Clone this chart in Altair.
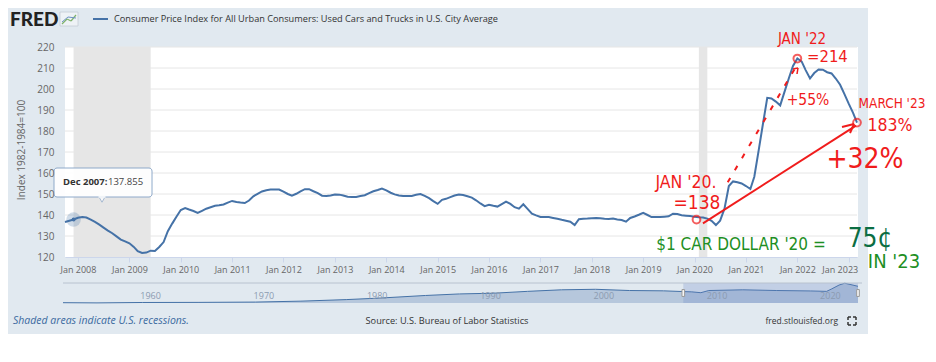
import altair as alt
import pandas as pd

# ---------------- data ----------------
cpi_2007 = [136.7, 137.3, 137.855]
cpi_2008 = [138.7, 139.0, 138.8, 137.8, 136.7, 135.4, 134.0, 132.6, 131.3, 129.8, 128.3, 127.4]
cpi_2009 = [126.5, 124.8, 122.8, 121.9, 122.1, 123.0, 122.9, 124.8, 127.1, 132.3, 135.9, 139.2]
cpi_2010 = [142.4, 143.3, 142.6, 141.9, 141.0, 142.0, 143.0, 143.7, 144.4, 144.6, 145.0, 145.9]
cpi_2011 = [146.7, 146.2, 145.9, 145.7, 146.9, 148.9, 150.1, 151.2, 151.8, 152.1, 152.1, 152.1]
cpi_2012 = [151.1, 150.0, 149.2, 150.1, 151.3, 152.3, 152.3, 151.3, 150.4, 149.2, 149.1, 149.3]
cpi_2013 = [149.8, 149.7, 149.3, 148.7, 148.6, 148.6, 149.0, 149.4, 150.4, 151.3, 151.9, 152.6]
cpi_2014 = [151.7, 150.6, 149.8, 149.3, 149.1, 149.1, 149.1, 149.6, 150.0, 149.1, 148.0, 146.6]
cpi_2015 = [145.3, 147.2, 147.7, 148.5, 149.3, 149.8, 149.5, 148.9, 148.3, 147.0, 145.5, 144.2]
cpi_2016 = [144.9, 144.4, 144.0, 145.2, 146.4, 145.3, 143.7, 143.0, 145.1, 142.9, 140.6, 139.8]
cpi_2017 = [139.1, 139.0, 139.0, 138.6, 138.2, 137.7, 137.3, 136.8, 135.2, 138.0, 138.2, 138.3]
cpi_2018 = [138.5, 138.6, 138.5, 138.2, 138.1, 138.3, 137.9, 137.6, 136.8, 138.6, 139.3, 140.1]
cpi_2019 = [141.0, 140.0, 139.0, 139.0, 139.0, 139.2, 139.4, 140.6, 140.5, 139.9, 139.7, 139.5]
cpi_2020 = [139.2, 138.9, 138.8, 138.3, 137.2, 135.2, 137.3, 143.0, 153.8, 156.0, 155.6, 155.0]
cpi_2021 = [153.8, 152.4, 158.2, 170.8, 183.2, 195.8, 195.5, 194.0, 192.2, 198.5, 205.0, 211.0]
cpi_2022 = [214.5, 213.0, 209.0, 205.0, 207.6, 209.3, 209.2, 208.0, 207.4, 205.0, 202.0, 197.7]
cpi_2023 = [193.0, 188.6, 184.0]
first_month = "2007-10-01"

recession_start = ["2007-12-01", "2020-02-01"]
recession_end = ["2009-06-01", "2020-04-01"]

y_ticks = [120, 130, 140, 150, 160, 170, 180, 190, 200, 210, 220]
x_tick_years = list(range(2008, 2024))

# long-history navigator (coarse reading of the mini chart)
nav_years = [1953, 1956, 1960, 1965, 1970, 1974, 1978, 1981, 1985, 1988, 1991, 1994,
             1997, 2000, 2003, 2006, 2008.5, 2009.3, 2010, 2013, 2016, 2019, 2020.4,
             2020.8, 2021.5, 2022.0, 2023.17]
nav_values = [25, 23, 27, 28, 31, 40, 55, 70, 95, 110, 117, 135,
              150, 155, 143, 140, 130, 122, 143, 150, 143, 139, 135,
              156, 196, 214, 184]
nav_label_years = [1960, 1970, 1980, 1990, 2000, 2010, 2020]
nav_window = [2007.75, 2023.17]

# hand-annotated points (date, value)
mark_dates = ["2020-01-15", "2022-01-01", "2023-03-01"]
mark_values = [137.8, 214.5, 184.0]
arrow_from = ("2020-03-01", 136.0)
arrow_to = ("2023-02-22", 182.6)
dash_from = ("2020-08-24", 155.6)
dash_to = ("2021-12-16", 209.9)

# ---------------- styling ----------------
PANEL = "#e1e9f0"
LINE = "#4572a7"
REC = "#e6e6e6"
GRID = "#e6e6e6"
RED = "#f01c1c"
GREEN = "#1e8f24"
DKGREEN = "#0b6e43"
FONT = "Open Sans"
HAND = "DejaVu Sans Condensed, Roboto, sans-serif"
W, H = 792, 210

cpi_values = (cpi_2007 + cpi_2008 + cpi_2009 + cpi_2010 + cpi_2011 + cpi_2012 + cpi_2013
              + cpi_2014 + cpi_2015 + cpi_2016 + cpi_2017 + cpi_2018 + cpi_2019 + cpi_2020
              + cpi_2021 + cpi_2022 + cpi_2023)
line_df = pd.DataFrame({"date": pd.date_range(first_month, periods=len(cpi_values), freq="MS"),
                        "value": cpi_values})
one = pd.DataFrame({"k": [0]})

xscale = alt.Scale(domain=[alt.DateTime(year=2007, month=10, date=1),
                           alt.DateTime(year=2023, month=3, date=1)])
xaxis = alt.Axis(values=[alt.DateTime(year=y, month=1, date=1) for y in x_tick_years],
                 format="%b %Y", labelFlush=11, labelFlushOffset=9, labelOverlap=False,
                 tickSize=5, tickColor="#ccd6eb", domainColor="#ccd6eb", labelPadding=3,
                 grid=False, title=None, labelFont=FONT, labelFontSize=9,
                 labelColor="#666666", zindex=1)
yscale = alt.Scale(domain=[120, 220], nice=False, zero=False)
yaxis = alt.Axis(values=y_ticks, grid=False, ticks=False, domain=False, labelPadding=11,
                 title=None, labelFont=FONT, labelFontSize=10, labelColor="#666666", zindex=1)
X = alt.X("date:T", scale=xscale, axis=xaxis)
Y = alt.Y("value:Q", scale=yscale, axis=yaxis)


def box(x, x2, y, y2, **kw):
    return alt.Chart(one).mark_rect(**kw).encode(
        x=alt.value(x), x2=alt.value(x2), y=alt.value(y), y2=alt.value(y2))


def txt(s, x, y, **kw):
    return alt.Chart(one).mark_text(text=s, **kw).encode(x=alt.value(x), y=alt.value(y))


def seg(x, y, x2, y2, color, width=1.0, **kw):
    return alt.Chart(one).mark_rule(color=color, strokeWidth=width, **kw).encode(
        x=alt.value(x), y=alt.value(y), x2=alt.value(x2), y2=alt.value(y2))


def data_seg(p0, p1, **kw):
    d = pd.DataFrame({"date": [pd.Timestamp(p0[0])], "value": [p0[1]],
                      "date2": [pd.Timestamp(p1[0])], "value2": [p1[1]]})
    return alt.Chart(d).mark_rule(**kw).encode(x=X, y=Y, x2="date2:T", y2="value2:Q")


layers = []
# panel and plot background
layers.append(box(-60, 803, -41, 287, color=PANEL))
layers.append(box(0, W + 1, 0, H, color="white"))
# recessions
rec_df = pd.DataFrame({"date": pd.to_datetime(recession_start),
                       "date2": pd.to_datetime(recession_end)})
layers.append(alt.Chart(rec_df).mark_rect(color=REC).encode(x=X, x2="date2:T"))
# grid
layers.append(alt.Chart(pd.DataFrame({"value": y_ticks[1:]})).mark_rule(
    color=GRID, strokeWidth=1).encode(y=Y))
# series
layers.append(alt.Chart(line_df).mark_line(color=LINE, strokeWidth=2).encode(x=X, y=Y))

# hover marker + tooltip (Dec 2007)
hl = line_df.iloc[[2]]
layers.append(alt.Chart(hl).mark_circle(size=210, color=LINE, opacity=0.25).encode(x=X, y=Y))
layers.append(alt.Chart(hl).mark_circle(size=16, color=LINE, opacity=1).encode(x=X, y=Y))
layers.append(alt.Chart(one).mark_point(shape="triangle-down", size=55, filled=True,
                                        fill="white", stroke="#8aa6c8", strokeWidth=1)
              .encode(x=alt.value(37), y=alt.value(152)))
layers.append(box(-11, 87, 121, 150, fill="white", stroke="#8aa6c8", strokeWidth=1,
                  cornerRadius=3, opacity=0.95))
layers.append(seg(33.5, 150, 40.5, 150, "white", 1.5))
layers.append(txt("Dec 2007:", -2, 135, align="left", baseline="middle", font=FONT,
                  fontSize=9.5, fontWeight="bold", color="#333333"))
layers.append(txt("137.855", 43, 135, align="left", baseline="middle", font=FONT,
                  fontSize=9.5, color="#444444"))

# hand-drawn annotations
layers.append(data_seg(dash_from, dash_to, color=RED, strokeWidth=2, strokeDash=[5, 9]))
layers.append(seg(733, 21, 728, 22, RED, 1.5))
layers.append(seg(733, 21, 732, 27, RED, 1.5))
layers.append(data_seg(arrow_from, arrow_to, color=RED, strokeWidth=2))
layers.append(seg(789, 77, 777, 80, RED, 2))
layers.append(seg(789, 77, 785, 86, RED, 2))
mk = pd.DataFrame({"date": pd.to_datetime(mark_dates), "value": mark_values})
layers.append(alt.Chart(mk).mark_point(shape="circle", filled=False, color=RED, size=60,
                                       strokeWidth=2).encode(x=X, y=Y))

def hand(s, x, y, size, color=RED, align="center", weight="normal"):
    return txt(s, x, y, align=align, baseline="middle", font=HAND, fontSize=size,
               fontWeight=weight, color=color)

layers.append(hand("JAN '22", 737, -8, 15))
layers.append(hand("=214", 742, 10, 16.5, align="left"))
layers.append(hand("+55%", 743, 53, 15.5))
layers.append(hand("MARCH '23", 827, 57, 13.5))
layers.append(hand("183%", 825, 79, 17.5))
layers.append(hand("+32%", 800, 113, 28))
layers.append(hand("JAN '20.", 621, 136, 17.5))
layers.append(hand("=138", 632, 156, 19))
layers.append(hand("$1 CAR DOLLAR '20 =", 676, 198, 17, color=GREEN))
layers.append(hand("75¢", 805, 192, 26, color=DKGREEN))
layers.append(hand("IN '23", 829, 215, 20, color=GREEN))

# header
layers.append(txt("FRED", -55, -27, align="left", baseline="middle", font="Lato",
                  fontSize=19, fontWeight=900, color="#222222"))
layers.append(box(-5, 13, -35, -21, fill="#eef2f6", stroke="#c4ccd6", strokeWidth=0.8))
layers.append(seg(-3, -23, 2, -28, "#7fb36a", 1.2))
layers.append(seg(2, -28, 6, -26, "#7fb36a", 1.2))
layers.append(seg(6, -26, 11, -32, "#7fb36a", 1.2))
layers.append(seg(-3, -25, 3, -30, "#6f93c4", 1.0))
layers.append(seg(3, -30, 11, -29, "#6f93c4", 1.0))
layers.append(seg(28, -28, 43, -28, LINE, 2))
layers.append(txt("Consumer Price Index for All Urban Consumers: Used Cars and Trucks in U.S. City Average",
                  49, -28, align="left", baseline="middle", font=FONT, fontSize=9.2,
                  color="#333333"))
# y title
layers.append(txt("Index 1982-1984=100", -43, 103, angle=270, align="center",
                  baseline="middle", font=FONT, fontSize=10, color="#666666"))
# footer
layers.append(txt("Shaded areas indicate U.S. recessions.", -52, 274, align="left",
                  baseline="middle", font=FONT, fontSize=10.5, fontStyle="italic",
                  color="#3b6aa0"))
layers.append(txt("Source: U.S. Bureau of Labor Statistics", 382, 274, align="center",
                  baseline="middle", font=FONT, fontSize=9.2, color="#333333"))
layers.append(txt("fred.stlouisfed.org", 773, 274, align="right", baseline="middle",
                  font=FONT, fontSize=8.5, color="#333333"))
for (cx, cy, dx, dy) in [(783, 270, 1, 1), (791, 270, -1, 1), (783, 278, 1, -1), (791, 278, -1, -1)]:
    layers.append(seg(cx, cy, cx + 3 * dx, cy, "#333333", 1.5))
    layers.append(seg(cx, cy, cx, cy + 3 * dy, "#333333", 1.5))

main = alt.layer(*layers)

# ---------------- navigator ----------------
NX = alt.Scale(domain=[1953, 2023.17], range=[-2, 793], nice=False, zero=False)
NY = alt.Scale(domain=[22, 216], range=[256, 236], nice=False, zero=False)
nav_df = pd.DataFrame({"year": nav_years, "nv": nav_values})
nx = alt.X("year:Q", scale=NX, axis=None)
ny = alt.Y("nv:Q", scale=NY, axis=None)
nav_layers = [
    alt.Chart(nav_df).mark_area(color="#b6c7dc").encode(x=nx, y=ny, y2=alt.datum(22)),
    alt.Chart(nav_df).mark_line(color=LINE, strokeWidth=1).encode(x=nx, y=ny),
    alt.Chart(pd.DataFrame({"year": [nav_window[0]], "year2": [nav_window[1]]}))
    .mark_rect(color="#6685c2", opacity=0.25)
    .encode(x=nx, x2="year2:Q", y=alt.value(236), y2=alt.value(256)),
    alt.Chart(pd.DataFrame({"year": nav_label_years, "lab": [str(v) for v in nav_label_years]}))
    .mark_text(align="left", dx=-2, baseline="middle", font=FONT, fontSize=9, color="#8c9bb0")
    .encode(x=nx, y=alt.value(249), text="lab:N"),
    alt.Chart(one).mark_rule(color="#b8c2cf", strokeWidth=1)
    .encode(x=alt.value(-2), x2=alt.value(797), y=alt.value(236)),
    alt.Chart(pd.DataFrame({"year": nav_window}))
    .mark_point(shape="M-0.5,-1.3L0.5,-1.3L0.5,1.3L-0.5,1.3Z", size=28, filled=True,
                fill="#f7f7f7", stroke="#999999", strokeWidth=1, opacity=1)
    .encode(x=nx, y=alt.value(246)),
]
nav = alt.layer(*nav_layers)

chart = (
    alt.layer(main, nav)
    .resolve_scale(x="independent", y="independent")
    .properties(width=W, height=H,
                padding={"left": 57, "top": 39, "right": 71, "bottom": 97},
                autosize=alt.AutoSizeParams(type="none"))
    .configure(background="white")
    .configure_view(stroke=None)
)

chart.save("out.html", embed_options={"renderer": "svg", "actions": False})
